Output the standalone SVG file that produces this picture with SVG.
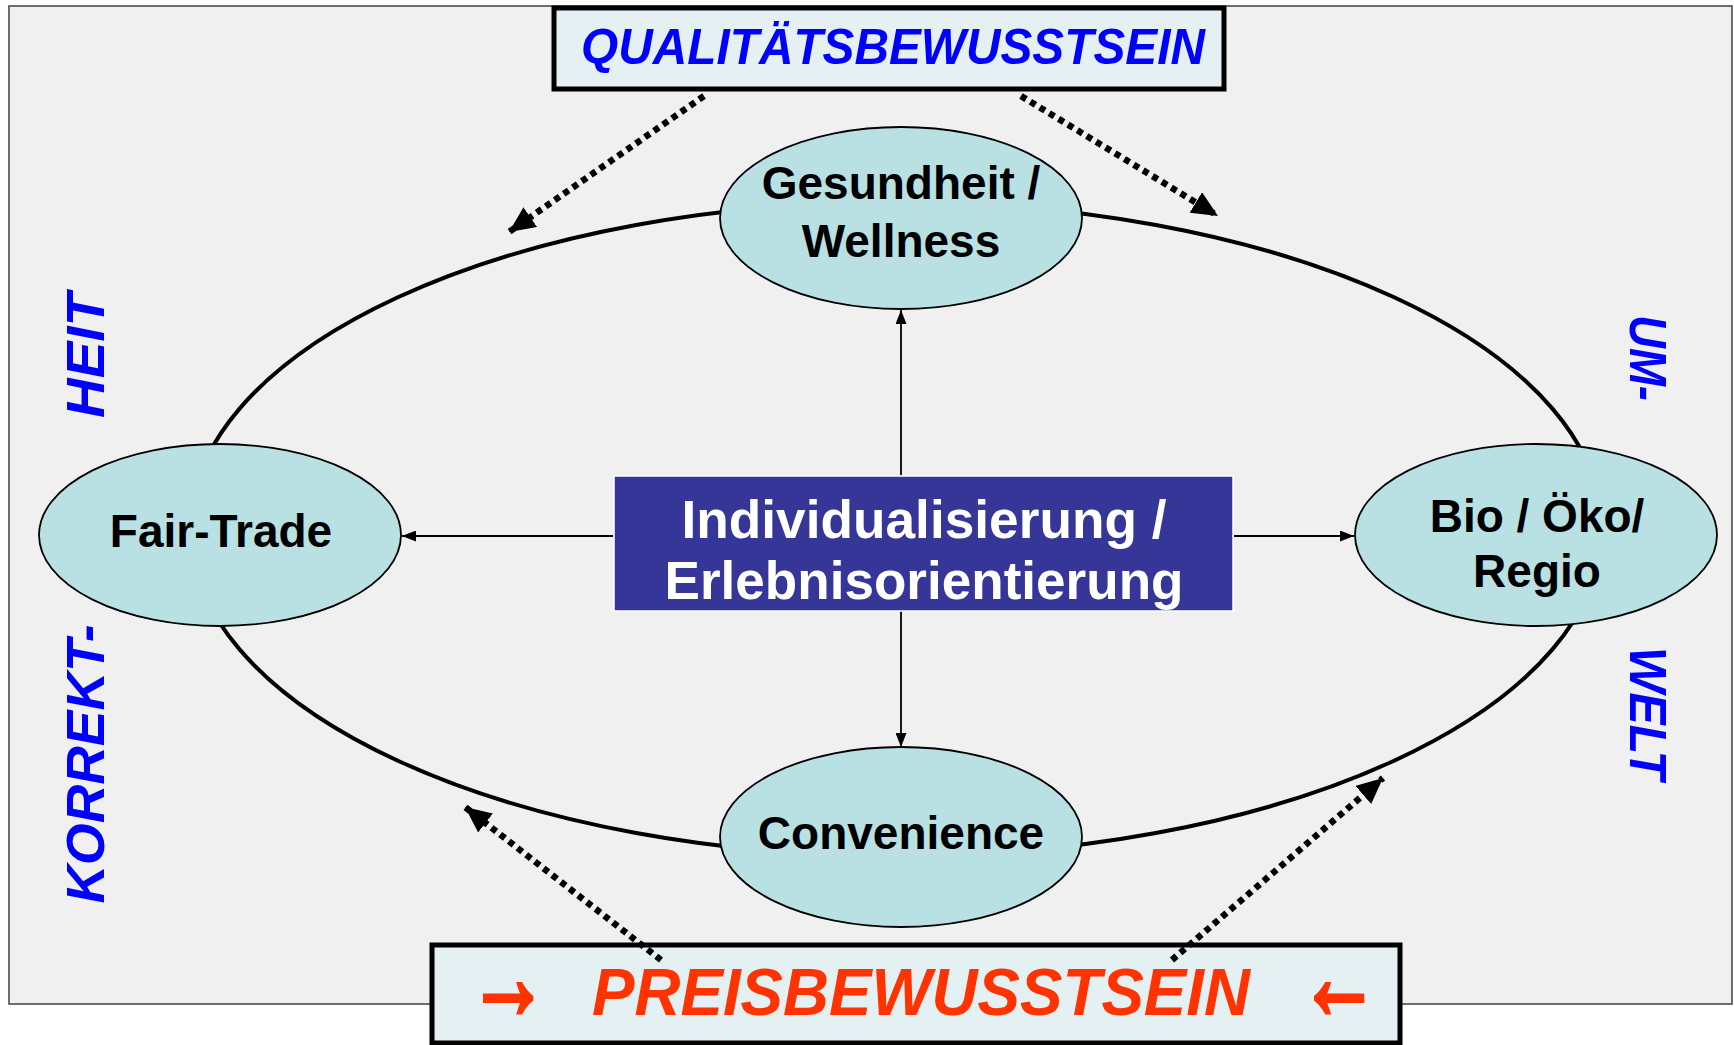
<svg xmlns="http://www.w3.org/2000/svg" width="1734" height="1045" viewBox="0 0 1734 1045">
<defs>
<style>
.frame{fill:#f0f0f0;stroke:#404040;stroke-width:1.5}
.ring{fill:none;stroke:#000;stroke-width:4}
.node{fill:#b9e0e3;stroke:#000;stroke-width:1.8}
.nlabel{font-family:"Liberation Sans",Arial,sans-serif;font-weight:bold;font-size:46px;fill:#000;text-anchor:middle}
.clabel{font-family:"Liberation Sans",Arial,sans-serif;font-weight:bold;font-size:53px;fill:#fff;text-anchor:middle}
.banner{fill:#e4f0f2;stroke:#000;stroke-width:5}
.blue{font-family:"Liberation Sans",Arial,sans-serif;font-weight:bold;font-style:italic;fill:#0000ff;text-anchor:middle}
.red{font-family:"Liberation Sans",Arial,sans-serif;font-weight:bold;font-style:italic;fill:#ff3300;text-anchor:middle}
.arrowglyph{stroke:#ff3300;stroke-width:3;stroke-linejoin:miter}
.solid{stroke:#000;stroke-width:1.8;fill:none}
.dotted{stroke:#000;stroke-width:6.5;stroke-dasharray:6 5;fill:none}
</style>
<marker id="ah" viewBox="0 0 14 11" refX="14" refY="5.5" markerWidth="14" markerHeight="11" markerUnits="userSpaceOnUse" orient="auto">
<path d="M0,0 L14,5.5 L0,11 Z" fill="#000"/>
</marker>
<marker id="ahd" viewBox="0 0 26 24" refX="26" refY="12" markerWidth="26" markerHeight="24" markerUnits="userSpaceOnUse" orient="auto">
<path d="M0,0 L26,12 L0,24 Z" fill="#000"/>
</marker>
</defs>

<rect class="frame" x="9" y="6" width="1723" height="998"/>

<g id="ring">
<ellipse class="ring" cx="896" cy="529" rx="706" ry="327"/>
</g>

<g id="side-labels">
<text class="blue" font-size="54" transform="translate(104,355.5) rotate(-90)" textLength="125" lengthAdjust="spacingAndGlyphs">HEIT</text>
<text class="blue" font-size="54" transform="translate(104,764) rotate(-90)" textLength="279" lengthAdjust="spacingAndGlyphs">KORREKT-</text>
<text class="blue" font-size="52" transform="translate(1630,358) rotate(90)" textLength="86" lengthAdjust="spacingAndGlyphs">UM-</text>
<text class="blue" font-size="52" transform="translate(1630,713.5) rotate(90)" textLength="133" lengthAdjust="spacingAndGlyphs">WELT</text>
</g>

<g id="connectors">
<line class="solid" x1="901" y1="475" x2="901" y2="310" marker-end="url(#ah)"/>
<line class="solid" x1="901" y1="611" x2="901" y2="747" marker-end="url(#ah)"/>
<line class="solid" x1="613" y1="536" x2="402" y2="536" marker-end="url(#ah)"/>
<line class="solid" x1="1234" y1="536" x2="1354" y2="536" marker-end="url(#ah)"/>
</g>

<g id="node-gesundheit">
<ellipse class="node" cx="901" cy="218" rx="181" ry="91"/>
<text class="nlabel" x="901" y="199">Gesundheit /</text>
<text class="nlabel" x="901" y="257">Wellness</text>
</g>
<g id="node-convenience">
<ellipse class="node" cx="901" cy="837" rx="181" ry="90"/>
<text class="nlabel" x="901" y="849">Convenience</text>
</g>
<g id="node-fairtrade">
<ellipse class="node" cx="220" cy="535" rx="181" ry="91"/>
<text class="nlabel" x="221" y="547">Fair-Trade</text>
</g>
<g id="node-bio">
<ellipse class="node" cx="1536" cy="535" rx="181" ry="91"/>
<text class="nlabel" x="1537" y="532">Bio / Öko/</text>
<text class="nlabel" x="1537" y="587">Regio</text>
</g>

<g id="node-center">
<rect x="614" y="476" width="619" height="135" fill="#363699" stroke="#ffffff" stroke-width="1.5"/>
<text class="clabel" x="924" y="538" textLength="485" lengthAdjust="spacingAndGlyphs">Individualisierung /</text>
<text class="clabel" x="924" y="599" textLength="519" lengthAdjust="spacingAndGlyphs">Erlebnisorientierung</text>
</g>

<g id="node-qualitaet">
<rect class="banner" x="554" y="8" width="670" height="81"/>
<text class="blue" x="893" y="64" font-size="50" textLength="624" lengthAdjust="spacingAndGlyphs">QUALITÄTSBEWUSSTSEIN</text>
</g>

<g id="node-preis">
<rect class="banner" x="432" y="945" width="968" height="98"/>
<text class="red" x="921" y="1015" font-size="66" textLength="658" lengthAdjust="spacingAndGlyphs">PREISBEWUSSTSEIN</text>
<text class="red arrowglyph" font-size="80" transform="translate(508,992) scale(1,1.5)" x="0" y="17">→</text>
<text class="red arrowglyph" font-size="80" transform="translate(1339,992) scale(1,1.5)" x="0" y="17">←</text>
</g>

<g id="dotted-connectors">
<line class="dotted" x1="704" y1="96" x2="509" y2="232" marker-end="url(#ahd)"/>
<line class="dotted" x1="1021" y1="96" x2="1218" y2="216" marker-end="url(#ahd)"/>
<line class="dotted" x1="661" y1="960" x2="465" y2="807" marker-end="url(#ahd)"/>
<line class="dotted" x1="1172" y1="960" x2="1383" y2="778" marker-end="url(#ahd)"/>
</g>
</svg>
